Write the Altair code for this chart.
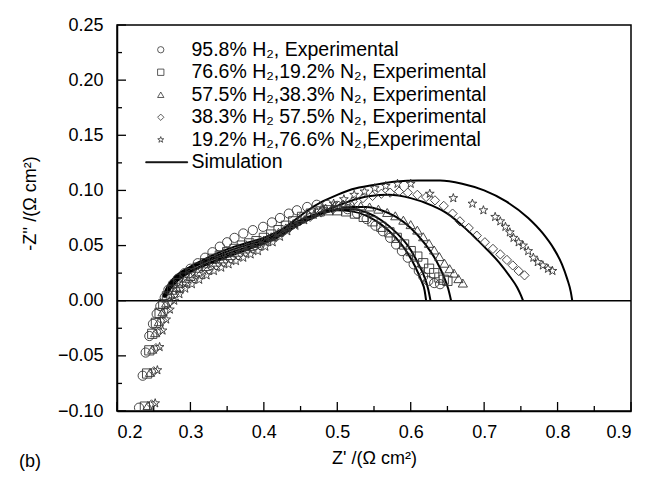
import altair as alt
import pandas as pd

labels = [
    "95.8% H₂, Experimental",
    "76.6% H₂,19.2% N₂, Experimental",
    "57.5% H₂,38.3% N₂, Experimental",
    "38.3% H₂ 57.5% N₂, Experimental",
    "19.2% H₂,76.6% N₂,Experimental",
    "Simulation",
]

# ---- experimental series ----
c_x = [0.230, 0.235, 0.239, 0.244, 0.249, 0.254, 0.259, 0.265, 0.270, 0.276, 0.283, 0.292, 0.300, 0.310,
       0.320, 0.330, 0.340, 0.350, 0.360, 0.372, 0.385, 0.399, 0.411, 0.422, 0.434, 0.445, 0.459, 0.472,
       0.486, 0.500, 0.514, 0.527, 0.540, 0.552, 0.562, 0.572, 0.580, 0.588, 0.596, 0.604, 0.611, 0.617,
       0.624, 0.632, 0.640]
c_y = [-0.097, -0.068, -0.047, -0.032, -0.021, -0.012, -0.005, 0.003, 0.010, 0.015, 0.020, 0.025, 0.029, 0.034,
       0.039, 0.044, 0.049, 0.053, 0.057, 0.061, 0.064, 0.067, 0.071, 0.075, 0.079, 0.082, 0.085, 0.087,
       0.087, 0.086, 0.083, 0.079, 0.074, 0.068, 0.063, 0.057, 0.051, 0.045, 0.039, 0.033, 0.027, 0.022,
       0.018, 0.016, 0.015]

s_x = [0.238, 0.241, 0.244, 0.248, 0.253, 0.258, 0.263, 0.268, 0.275, 0.283, 0.292, 0.300, 0.310, 0.320,
       0.330, 0.340, 0.350, 0.360, 0.370, 0.380, 0.390, 0.400, 0.410, 0.420, 0.430, 0.440, 0.452, 0.464,
       0.476, 0.488, 0.500, 0.512, 0.524, 0.536, 0.548, 0.560, 0.571, 0.581, 0.591, 0.600, 0.609, 0.617,
       0.625, 0.632, 0.639, 0.645, 0.650]
s_y = [-0.096, -0.066, -0.045, -0.030, -0.020, -0.011, -0.003, 0.004, 0.010, 0.016, 0.021, 0.025, 0.030, 0.034,
       0.038, 0.041, 0.044, 0.047, 0.050, 0.052, 0.054, 0.057, 0.060, 0.064, 0.068, 0.072, 0.076, 0.079,
       0.081, 0.082, 0.082, 0.081, 0.079, 0.076, 0.072, 0.067, 0.062, 0.057, 0.051, 0.045, 0.040, 0.034,
       0.029, 0.025, 0.021, 0.019, 0.018]

t_x = [0.242, 0.245, 0.248, 0.252, 0.257, 0.262, 0.267, 0.273, 0.281, 0.290, 0.300, 0.310, 0.320, 0.330,
       0.340, 0.350, 0.360, 0.370, 0.380, 0.390, 0.400, 0.410, 0.420, 0.430, 0.440, 0.450, 0.461, 0.472,
       0.484, 0.496, 0.508, 0.520, 0.532, 0.544, 0.556, 0.568, 0.579, 0.590, 0.600, 0.609, 0.617, 0.625,
       0.632, 0.639, 0.646, 0.653, 0.659, 0.665, 0.671]
t_y = [-0.095, -0.065, -0.044, -0.029, -0.019, -0.010, -0.002, 0.006, 0.012, 0.017, 0.022, 0.026, 0.031, 0.035,
       0.038, 0.041, 0.044, 0.047, 0.049, 0.052, 0.055, 0.058, 0.062, 0.066, 0.070, 0.074, 0.078, 0.081,
       0.084, 0.086, 0.087, 0.087, 0.086, 0.085, 0.083, 0.080, 0.077, 0.073, 0.069, 0.064, 0.058, 0.052,
       0.046, 0.040, 0.034, 0.029, 0.025, 0.020, 0.016]

d_x = [0.247, 0.250, 0.253, 0.257, 0.262, 0.267, 0.272, 0.278, 0.286, 0.295, 0.305, 0.315, 0.325, 0.335,
       0.345, 0.355, 0.365, 0.375, 0.385, 0.395, 0.405, 0.415, 0.425, 0.436, 0.449, 0.463, 0.478, 0.494,
       0.508, 0.521, 0.535, 0.548, 0.560, 0.572, 0.584, 0.596, 0.609, 0.621, 0.633, 0.645, 0.657, 0.667,
       0.679, 0.690, 0.701, 0.712, 0.722, 0.731, 0.739, 0.747, 0.755]
d_y = [-0.094, -0.064, -0.043, -0.028, -0.018, -0.009, -0.001, 0.006, 0.011, 0.016, 0.020, 0.024, 0.028, 0.032,
       0.035, 0.038, 0.041, 0.044, 0.047, 0.050, 0.054, 0.058, 0.062, 0.067, 0.072, 0.076, 0.080, 0.083,
       0.087, 0.090, 0.093, 0.095, 0.097, 0.098, 0.099, 0.098, 0.096, 0.094, 0.091, 0.086, 0.079, 0.072,
       0.066, 0.059, 0.053, 0.047, 0.042, 0.037, 0.032, 0.027, 0.023]

st_x = [0.252, 0.255, 0.258, 0.262, 0.267, 0.272, 0.278, 0.285, 0.293, 0.302, 0.312, 0.322, 0.332, 0.342,
        0.352, 0.362, 0.372, 0.382, 0.392, 0.402, 0.412, 0.422, 0.432, 0.443, 0.455, 0.468, 0.481, 0.495,
        0.509, 0.523, 0.537, 0.551, 0.566, 0.582, 0.600, 0.626, 0.658, 0.684, 0.699, 0.715, 0.722, 0.729,
        0.735, 0.740, 0.747, 0.753, 0.760, 0.767, 0.773, 0.780, 0.787, 0.793]
st_y = [-0.093, -0.063, -0.042, -0.027, -0.017, -0.008, 0.000, 0.006, 0.011, 0.015, 0.019, 0.023, 0.027, 0.030,
        0.033, 0.036, 0.039, 0.042, 0.045, 0.049, 0.053, 0.058, 0.063, 0.068, 0.073, 0.078, 0.083, 0.088,
        0.092, 0.096, 0.099, 0.102, 0.104, 0.106, 0.106, 0.097, 0.093, 0.088, 0.082, 0.076, 0.072, 0.067,
        0.062, 0.057, 0.053, 0.050, 0.045, 0.039, 0.035, 0.032, 0.029, 0.027]

# ---- simulation curves ----
sim1_x = [0.263, 0.268, 0.275, 0.285, 0.300, 0.320, 0.340, 0.360, 0.380, 0.400, 0.420, 0.440, 0.460, 0.480,
          0.500, 0.520, 0.540, 0.560, 0.580, 0.595, 0.606, 0.614, 0.619, 0.621]
sim1_y = [0.004, 0.012, 0.019, 0.025, 0.031, 0.038, 0.044, 0.049, 0.053, 0.057, 0.063, 0.070, 0.076, 0.080,
          0.082, 0.081, 0.077, 0.069, 0.057, 0.044, 0.031, 0.019, 0.009, 0.000]
sim2_x = [0.263, 0.268, 0.275, 0.285, 0.300, 0.320, 0.340, 0.360, 0.380, 0.400, 0.420, 0.440, 0.460, 0.480,
          0.500, 0.520, 0.540, 0.560, 0.580, 0.597, 0.610, 0.619, 0.624, 0.627]
sim2_y = [0.003, 0.011, 0.018, 0.024, 0.030, 0.036, 0.042, 0.047, 0.051, 0.055, 0.061, 0.068, 0.075, 0.080,
          0.083, 0.083, 0.080, 0.073, 0.062, 0.049, 0.034, 0.021, 0.010, 0.000]
sim3_x = [0.264, 0.269, 0.276, 0.286, 0.300, 0.320, 0.340, 0.360, 0.380, 0.400, 0.420, 0.440, 0.460, 0.480,
          0.500, 0.520, 0.540, 0.560, 0.580, 0.600, 0.620, 0.635, 0.645, 0.651, 0.655]
sim3_y = [0.003, 0.010, 0.017, 0.023, 0.029, 0.035, 0.040, 0.045, 0.049, 0.053, 0.059, 0.066, 0.073, 0.079,
          0.083, 0.085, 0.085, 0.082, 0.076, 0.066, 0.051, 0.036, 0.022, 0.011, 0.000]
sim4_x = [0.265, 0.270, 0.277, 0.287, 0.300, 0.320, 0.340, 0.360, 0.380, 0.400, 0.420, 0.440, 0.460, 0.480,
          0.500, 0.520, 0.545, 0.570, 0.600, 0.630, 0.650, 0.677, 0.700, 0.720, 0.735, 0.745, 0.750, 0.753]
sim4_y = [0.003, 0.010, 0.016, 0.022, 0.027, 0.033, 0.038, 0.043, 0.047, 0.052, 0.058, 0.066, 0.074, 0.081,
          0.086, 0.091, 0.095, 0.096, 0.093, 0.086, 0.079, 0.064, 0.049, 0.035, 0.022, 0.012, 0.005, 0.000]
sim5_x = [0.266, 0.271, 0.278, 0.288, 0.300, 0.320, 0.340, 0.360, 0.380, 0.400, 0.420, 0.440, 0.460, 0.480,
          0.500, 0.520, 0.550, 0.580, 0.610, 0.640, 0.670, 0.700, 0.730, 0.760, 0.780, 0.795, 0.806, 0.813,
          0.818, 0.820]
sim5_y = [0.003, 0.009, 0.015, 0.021, 0.026, 0.032, 0.037, 0.042, 0.047, 0.053, 0.062, 0.072, 0.082, 0.090,
          0.096, 0.101, 0.105, 0.108, 0.109, 0.109, 0.106, 0.100, 0.090, 0.075, 0.061, 0.047, 0.033, 0.020,
          0.008, 0.000]

x_major = [0.2, 0.3, 0.4, 0.5, 0.6, 0.7, 0.8, 0.9]
x_minor = [0.25, 0.35, 0.45, 0.55, 0.65, 0.75, 0.85]
y_major = [-0.10, -0.05, 0.00, 0.05, 0.10, 0.15, 0.20, 0.25]
y_minor = [-0.075, -0.025, 0.025, 0.075, 0.125, 0.175, 0.225]
panel_label = ["(b)"]

# ---- tables ----
exp_sets = [(c_x, c_y), (s_x, s_y), (t_x, t_y), (d_x, d_y), (st_x, st_y)]
rows = []
for lab, (xs, ys) in zip(labels[:5], exp_sets):
    for a, b in zip(xs, ys):
        rows.append({"x": a, "y": b, "series": lab})
df_pts = pd.DataFrame(rows)

sim_sets = [(sim1_x, sim1_y), (sim2_x, sim2_y), (sim3_x, sim3_y), (sim4_x, sim4_y), (sim5_x, sim5_y)]
srows = []
for i, (xs, ys) in enumerate(sim_sets):
    for a, b in zip(xs, ys):
        srows.append({"x": a, "y": b, "curve": f"sim{i+1}"})
df_sim = pd.DataFrame(srows)

W, H = 514, 386
FONT = "Liberation Sans"
FS = 18

xscale = alt.Scale(domain=[0.2, 0.9], nice=False, zero=False)
yscale = alt.Scale(domain=[-0.10, 0.25], nice=False, zero=False)

xaxis = alt.Axis(values=x_major, format=".1f", ticks=False, grid=False, labelPadding=12,
                 title="Z' /(Ω cm²)", titlePadding=8)
yaxis = alt.Axis(values=y_major, format=".2f", ticks=False, grid=False, labelPadding=14,
                 title="-Z'' /(Ω cm²)", titleX=-87, titleY=178, titleAngle=-90,
                 titleAlign="center", titleBaseline="middle")

star = ("M0,-1L0.235,-0.324L0.951,-0.309L0.380,0.124L0.588,0.809L0,0.4L-0.588,0.809"
        "L-0.380,0.124L-0.951,-0.309L-0.235,-0.324Z")
simline = "M-4.75,-0.16H8.5V0.16H-4.75Z"
shape_scale = alt.Scale(domain=labels, range=["circle", "square", "triangle-up", "diamond", star, simline])
fill_scale = alt.Scale(domain=labels, range=["transparent"] * 5 + ["black"])
stroke_scale = alt.Scale(domain=labels, range=["#333333"] * 5 + ["black"])

leg = alt.Legend(title=None, orient="none", legendX=34, legendY=15, symbolSize=40,
                 labelFontSize=19.5, labelFont=FONT, labelColor="black", rowPadding=1.5,
                 labelOffset=21, padding=0, symbolStrokeWidth=0.8, labelLimit=0)

points = alt.Chart(df_pts).mark_point(filled=True, strokeWidth=0.9, opacity=1,
                                      size=85, clip=True).encode(
    x=alt.X("x:Q", scale=xscale, axis=xaxis),
    y=alt.Y("y:Q", scale=yscale, axis=yaxis),
    shape=alt.Shape("series:N", scale=shape_scale, legend=leg),
    fill=alt.Fill("series:N", scale=fill_scale, legend=leg),
    stroke=alt.Stroke("series:N", scale=stroke_scale, legend=leg),
)

lines = alt.Chart(df_sim).mark_line(color="black", strokeWidth=2, interpolate="monotone").encode(
    x=alt.X("x:Q", scale=xscale),
    y=alt.Y("y:Q", scale=yscale),
    detail="curve:N",
)

zero = alt.Chart(pd.DataFrame({"y": [0.0]})).mark_rule(color="black", strokeWidth=1.5).encode(
    y=alt.Y("y:Q", scale=yscale))

xmaj = alt.Chart(pd.DataFrame({"v": x_major})).mark_rule(color="black", strokeWidth=1.3).encode(
    x=alt.X("v:Q", scale=xscale), y=alt.value(H), y2=alt.value(H - 9))
xmin = alt.Chart(pd.DataFrame({"v": x_minor})).mark_rule(color="black", strokeWidth=1.3).encode(
    x=alt.X("v:Q", scale=xscale), y=alt.value(H), y2=alt.value(H - 5))
ymaj = alt.Chart(pd.DataFrame({"v": y_major})).mark_rule(color="black", strokeWidth=1.3).encode(
    y=alt.Y("v:Q", scale=yscale), x=alt.value(0), x2=alt.value(9))
ymin = alt.Chart(pd.DataFrame({"v": y_minor})).mark_rule(color="black", strokeWidth=1.3).encode(
    y=alt.Y("v:Q", scale=yscale), x=alt.value(0), x2=alt.value(5))

plabel = alt.Chart(pd.DataFrame({"t": panel_label})).mark_text(
    align="left", baseline="middle", font=FONT, fontSize=FS, color="black").encode(
    text="t:N", x=alt.value(-98), y=alt.value(437))

chart = alt.layer(zero, xmaj, xmin, ymaj, ymin, lines, points, plabel).properties(
    width=W, height=H,
    autosize=alt.AutoSizeParams(type="none"),
    padding={"left": 117, "top": 25, "right": 18, "bottom": 66},
).configure_view(stroke="black", strokeWidth=1.5).configure_axis(
    domainColor="black", domainWidth=1.5, labelFont=FONT, labelFontSize=FS, labelColor="black",
    titleFont=FONT, titleFontSize=FS, titleColor="black", titleFontWeight="normal",
)

chart.save("out.html", embed_options={"renderer": "svg", "actions": False})
